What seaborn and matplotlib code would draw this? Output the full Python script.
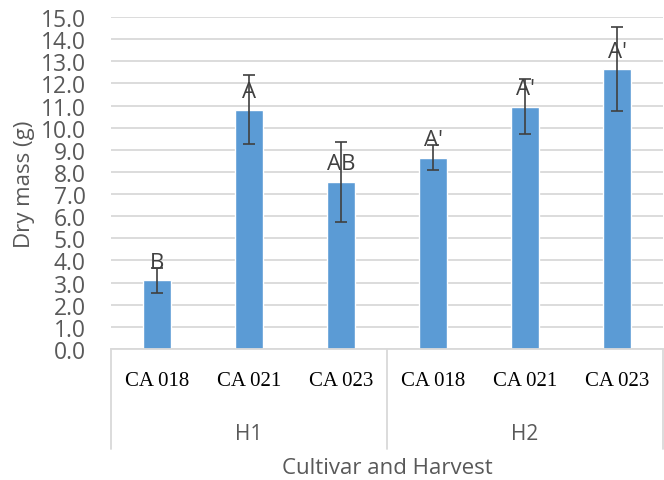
import numpy as np
import pandas as pd
import matplotlib
matplotlib.use("Agg")
import matplotlib.pyplot as plt
import matplotlib.transforms as mtransforms
import seaborn as sns

# data
harvest = ["H1", "H1", "H1", "H2", "H2", "H2"]
cultivar = ["CA 018", "CA 021", "CA 023", "CA 018", "CA 021", "CA 023"]
dry_mass = [3.1, 10.8, 7.55, 8.65, 10.95, 12.65]
err = [0.56, 1.56, 1.8, 0.55, 1.25, 1.9]
letters = ["B", "A", "AB", "A'", "A'", "A'"]

df = pd.DataFrame({
    "group": [h + " " + c for h, c in zip(harvest, cultivar)],
    "Dry mass": dry_mass,
})

sns.set_style("white")
plt.rcParams["font.family"] = ["Open Sans", "DejaVu Sans"]

fig = plt.figure(figsize=(6.64, 4.81), dpi=100)
ax = fig.add_axes([111 / 664, 1 - 350 / 481, 552 / 664, 332 / 481])

sns.barplot(data=df, x="group", y="Dry mass", color="#5b9bd5", saturation=1,
            width=0.31, ax=ax, zorder=2)

xs = np.arange(len(dry_mass))
ax.errorbar(xs, dry_mass, yerr=err, fmt="none", ecolor="#404040",
            elinewidth=1.2, capsize=4, capthick=1.2, zorder=3)

for x, v, t in zip(xs, dry_mass, letters):
    ax.annotate(t, xy=(x, v), xytext=(0, 9), textcoords="offset points",
                ha="center", va="baseline", fontsize=16, color="#404040",
                zorder=4)

ax.set_ylim(0, 15)
ax.set_xlim(-0.5, len(dry_mass) - 0.5)
ax.set_yticks(np.arange(0, 15.5, 1.0))
ax.set_yticklabels([f"{v:.1f}" for v in np.arange(0, 15.5, 1.0)])
ax.yaxis.grid(True, color="#d9d9d9", linewidth=1.3, zorder=0)
ax.set_axisbelow(True)
ax.tick_params(axis="y", length=0, pad=18, labelsize=16.5, labelcolor="#595959")

ax.set_xticks(xs)
ax.set_xticklabels(cultivar, family="Liberation Serif", fontsize=15,
                   color="black")
ax.tick_params(axis="x", length=0, pad=16)

for s in ["top", "right", "left"]:
    ax.spines[s].set_visible(False)
ax.spines["bottom"].set_color("#d9d9d9")
ax.spines["bottom"].set_linewidth(1.3)

ax.set_xlabel("")
ax.set_ylabel("Dry mass (g)", fontsize=16, color="#595959", labelpad=4)

# group labels and separators below the axis
trans = mtransforms.blended_transform_factory(ax.transData, ax.transAxes)
px = 1 / 332
for xline in [-0.5, 2.5, 5.5]:
    ax.plot([xline, xline], [0, -100 * px], transform=trans, color="#d9d9d9",
            linewidth=1.3, clip_on=False)
for i, h in enumerate(["H1", "H2"]):
    ax.text(3 * i + 1, -85 * px, h, transform=trans, ha="center", va="center",
            fontsize=15, color="#595959")

fig.text((111 + 663) / 2 / 664, 1 - 469 / 481, "Cultivar and Harvest",
         ha="center", va="center", fontsize=16, color="#595959")

fig.savefig("out.png", dpi=100)
